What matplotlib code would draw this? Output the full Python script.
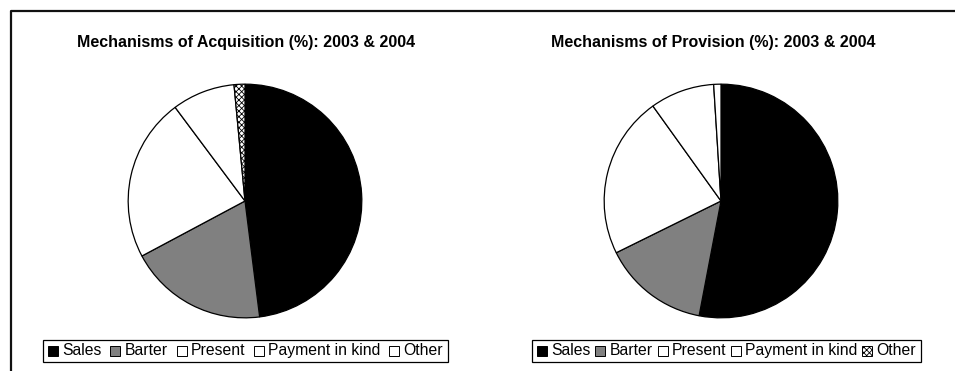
import matplotlib
matplotlib.use("Agg")
import matplotlib.pyplot as plt
from matplotlib.patches import Rectangle

plt.rcParams['font.family'] = ['Liberation Sans', 'DejaVu Sans']
plt.rcParams['hatch.linewidth'] = 0.6

categories = ["Sales", "Barter", "Present", "Payment in kind", "Other"]
acquisition = [48.0, 19.2, 22.6, 8.7, 1.5]
provision = [53.0, 14.7, 22.4, 8.9, 1.0]

titles = ["Mechanisms of Acquisition (%): 2003 & 2004",
          "Mechanisms of Provision (%): 2003 & 2004"]

colors = ["#000000", "#808080", "#ffffff", "#ffffff", "#ffffff"]
# hatch on the pie slices and on the legend keys of each chart
pie_hatches = [[None, None, None, None, "xxxxxx"],
               [None, None, None, None, None]]
legend_hatches = [[None, None, None, None, None],
                  [None, None, None, None, "xxxxxx"]]

W, H = 955, 371
fig = plt.figure(figsize=(W / 100, H / 100), dpi=100)
fig.patch.set_facecolor("white")

# overlay axes in pixel units (y downward) for frame and legends
frame = fig.add_axes([0, 0, 1, 1], facecolor="none")
frame.set_xlim(0, W)
frame.set_ylim(H, 0)
frame.axis("off")
frame.plot([10.5, 10.5, W], [H, 10.5, 10.5], color="#111111", lw=1.6,
           solid_capstyle="butt")

centers = [(245, 201), (721, 201)]
title_x = [246, 713]
legend_cx = [245.5, 726.5]
legend_top, legend_bottom = 340, 362
R = 118
FS = 11.3
SQ = 10              # key square size, px
KEY_GAP = 4          # square to label
ITEM_GAPS = [9, 5]   # label to next square, per legend
PAD = 5              # inner padding of the legend box

renderer = fig.canvas.get_renderer()


def text_width(s):
    t = frame.text(0, 0, s, fontsize=FS)
    w = t.get_window_extent(renderer).width
    t.remove()
    return w


for i, values in enumerate([acquisition, provision]):
    cx, cy = centers[i]
    ax = fig.add_axes([(cx - R) / W, (H - cy - R) / H, 2 * R / W, 2 * R / H])
    wedges, _ = ax.pie(values, colors=colors, startangle=90, counterclock=False,
                       radius=1.0,
                       wedgeprops=dict(edgecolor="black", linewidth=0.9))
    for w, h in zip(wedges, pie_hatches[i]):
        if h:
            w.set_hatch(h)
    ax.set_xlim(-1.01, 1.01)
    ax.set_ylim(-1.01, 1.01)
    ax.set_aspect("equal")
    ax.axis("off")

    fig.text(title_x[i] / W, (H - 42) / H, titles[i], ha="center", va="center",
             fontsize=11.5, fontweight="bold")

    # legend laid out by hand so all labels share one baseline
    gap = ITEM_GAPS[i]
    widths = [text_width(c) for c in categories]
    total = 2 * PAD + sum(SQ + KEY_GAP + w for w in widths) + gap * (len(categories) - 1)
    x = legend_cx[i] - total / 2
    frame.add_patch(Rectangle((x, legend_top), total, legend_bottom - legend_top,
                              facecolor="white", edgecolor="black", lw=0.9))
    ymid = (legend_top + legend_bottom) / 2
    x += PAD
    for c, h, lab, w in zip(colors, legend_hatches[i], categories, widths):
        frame.add_patch(Rectangle((x, ymid - SQ / 2), SQ, SQ, facecolor=c,
                                  edgecolor="black", lw=0.7, hatch=h))
        frame.text(x + SQ + KEY_GAP, ymid + 4.2, lab, fontsize=FS,
                   ha="left", va="baseline")
        x += SQ + KEY_GAP + w + gap

fig.savefig("out.png", dpi=100, facecolor="white")
